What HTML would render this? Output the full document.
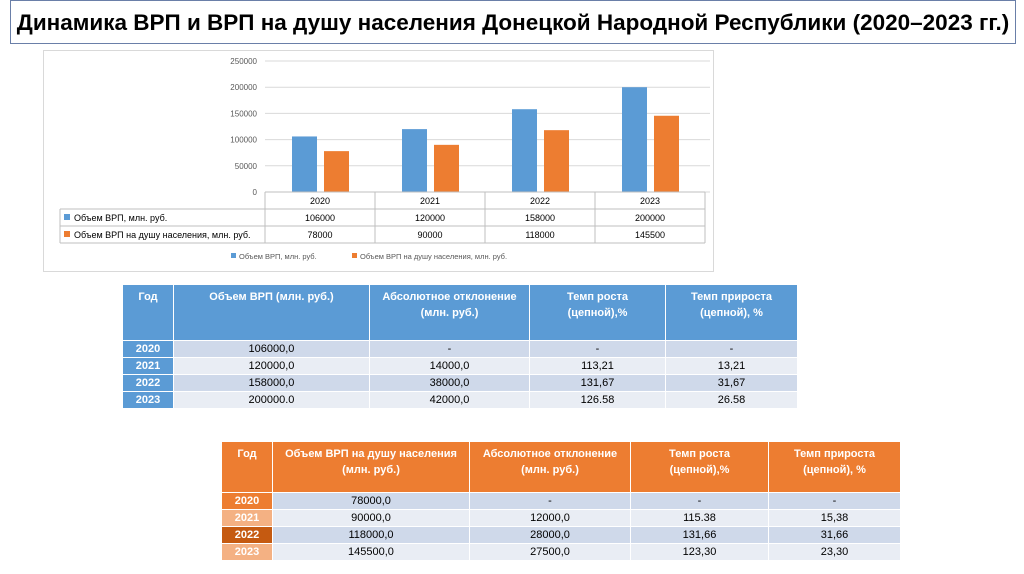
<!DOCTYPE html>
<html><head><meta charset="utf-8"><style>
body{margin:0;width:1024px;height:574px;background:#fff;font-family:"Liberation Sans",sans-serif;position:relative;overflow:hidden}
.title{position:absolute;left:10px;top:0;width:1006px;height:44px;border:1px solid #6a7fa8;font-weight:bold;font-size:22.5px;text-align:center;line-height:44px;color:#000;box-sizing:border-box;white-space:nowrap}
.chartbox{position:absolute;left:43px;top:50px;width:671px;height:222px;border:1px solid #d9d9d9;box-sizing:border-box}
table.t{position:absolute;border-collapse:separate;border-spacing:1px;font-size:11px;background:#fff}
table.t td{text-align:center;padding:0;color:#000}
table.t th{font-weight:bold;color:#fff;font-size:11px;vertical-align:top;padding-top:4px;line-height:16px}
</style></head><body>
<div class="title">Динамика ВРП и ВРП на душу населения Донецкой Народной Республики (2020–2023 гг.)</div>
<div class="chartbox"></div>
<svg id="chart" width="1024" height="574" style="position:absolute;left:0;top:0" font-family="Liberation Sans, sans-serif"></svg>

<table class="t" style="left:122px;top:284px;width:676px">
<tr style="height:55px;background:#5b9bd5"><th style="width:48px">Год</th><th style="width:193px">Объем ВРП (млн. руб.)</th><th style="width:157px">Абсолютное отклонение<br>(млн. руб.)</th><th style="width:133px">Темп роста<br>(цепной),%</th><th>Темп прироста<br>(цепной), %</th></tr>
<tr style="height:16px;background:#cfd9ea"><td style="background:#5b9bd5;color:#fff;font-weight:bold">2020</td><td>106000,0</td><td>-</td><td>-</td><td>-</td></tr>
<tr style="height:16px;background:#e9edf4"><td style="background:#5b9bd5;color:#fff;font-weight:bold">2021</td><td>120000,0</td><td>14000,0</td><td>113,21</td><td>13,21</td></tr>
<tr style="height:16px;background:#cfd9ea"><td style="background:#5b9bd5;color:#fff;font-weight:bold">2022</td><td>158000,0</td><td>38000,0</td><td>131,67</td><td>31,67</td></tr>
<tr style="height:16px;background:#e9edf4"><td style="background:#5b9bd5;color:#fff;font-weight:bold">2023</td><td>200000.0</td><td>42000,0</td><td>126.58</td><td>26.58</td></tr>
</table>

<table class="t" style="left:221px;top:441px;width:680px">
<tr style="height:50px;background:#ed7d31"><th style="width:48px">Год</th><th style="width:194px">Объем ВРП на душу населения<br>(млн. руб.)</th><th style="width:158px">Абсолютное отклонение<br>(млн. руб.)</th><th style="width:135px">Темп роста<br>(цепной),%</th><th>Темп прироста<br>(цепной), %</th></tr>
<tr style="height:16px;background:#cfd9ea"><td style="background:#ed7d31;color:#fff;font-weight:bold">2020</td><td>78000,0</td><td>-</td><td>-</td><td>-</td></tr>
<tr style="height:16px;background:#e9edf4"><td style="background:#f4b183;color:#fff;font-weight:bold">2021</td><td>90000,0</td><td>12000,0</td><td>115.38</td><td>15,38</td></tr>
<tr style="height:16px;background:#cfd9ea"><td style="background:#c55a11;color:#fff;font-weight:bold">2022</td><td>118000,0</td><td>28000,0</td><td>131,66</td><td>31,66</td></tr>
<tr style="height:16px;background:#e9edf4"><td style="background:#f4b183;color:#fff;font-weight:bold">2023</td><td>145500,0</td><td>27500,0</td><td>123,30</td><td>23,30</td></tr>
</table>

<script>
const categories=["2020","2021","2022","2023"];
const gdp=[106000,120000,158000,200000];
const gdpPerCapita=[78000,90000,118000,145500];
const yTicks=[0,50000,100000,150000,200000,250000];
const seriesNames=["Объем ВРП, млн. руб.","Объем ВРП на душу населения, млн. руб."];
const svg=document.getElementById('chart');
const NS="http://www.w3.org/2000/svg";
const x0=265,x1=705,yTop=61,yBot=192,yMax=250000;
const catW=(x1-x0)/categories.length;
const y=v=>yBot-(v/yMax)*(yBot-yTop);
function mk(tag,attrs,text){const e=document.createElementNS(NS,tag);for(const k in attrs)e.setAttribute(k,attrs[k]);if(text!==undefined)e.textContent=text;svg.appendChild(e);return e;}
yTicks.forEach(t=>{
  const l=mk('line',{x1:x0,x2:x1+5,y1:y(t),y2:y(t),stroke:'#d9d9d9','stroke-width':1});
  
  
  const tx=mk('text',{x:257,y:y(t)+3,'font-size':8,'text-anchor':'end',fill:'#595959'},String(t));
  
  
});
const colors=['#5b9bd5','#ed7d31'];
[gdp,gdpPerCapita].forEach((s,si)=>{
  s.forEach((v,i)=>{
    const bx=x0+i*catW+27+si*32;
    const r=mk('rect',{x:bx,y:y(v),width:25,height:yBot-y(v),fill:colors[si]});
    
    
  });
});
const rows=[192,209,226,243];
const tl=60;
mk('line',{x1:x0,x2:x1,y1:rows[0],y2:rows[0],stroke:'#bfbfbf'});
for(let r=1;r<4;r++)mk('line',{x1:tl,x2:x1,y1:rows[r],y2:rows[r],stroke:'#bfbfbf'});
mk('line',{x1:tl,x2:tl,y1:rows[1],y2:rows[3],stroke:'#bfbfbf'});
for(let c=0;c<=categories.length;c++)mk('line',{x1:x0+c*catW,x2:x0+c*catW,y1:rows[0],y2:rows[3],stroke:'#bfbfbf'});
categories.forEach((c,i)=>{
  const cx=x0+i*catW+catW/2;
  const t=mk('text',{x:cx,y:204,'font-size':9,'text-anchor':'middle',fill:'#000'},c);
  
  
  mk('text',{x:cx,y:221,'font-size':9,'text-anchor':'middle',fill:'#000'},String(gdp[i]));
  mk('text',{x:cx,y:238,'font-size':9,'text-anchor':'middle',fill:'#000'},String(gdpPerCapita[i]));
});
seriesNames.forEach((n,si)=>{
  mk('rect',{x:64,y:rows[si+1]+5,width:6,height:6,fill:colors[si]});
  const t=mk('text',{x:74,y:rows[si+1]+12,'font-size':9,fill:'#000'},n);
  
  
});
const lg=[[231,seriesNames[0]],[352,seriesNames[1]]];
lg.forEach((l,si)=>{
  const r=mk('rect',{x:l[0],y:253,width:5,height:5,fill:colors[si]});
  
  
  const t=mk('text',{x:l[0]+8,y:259,'font-size':7.5,fill:'#595959'},l[1]);
  
  
});
</script>
</body></html>
